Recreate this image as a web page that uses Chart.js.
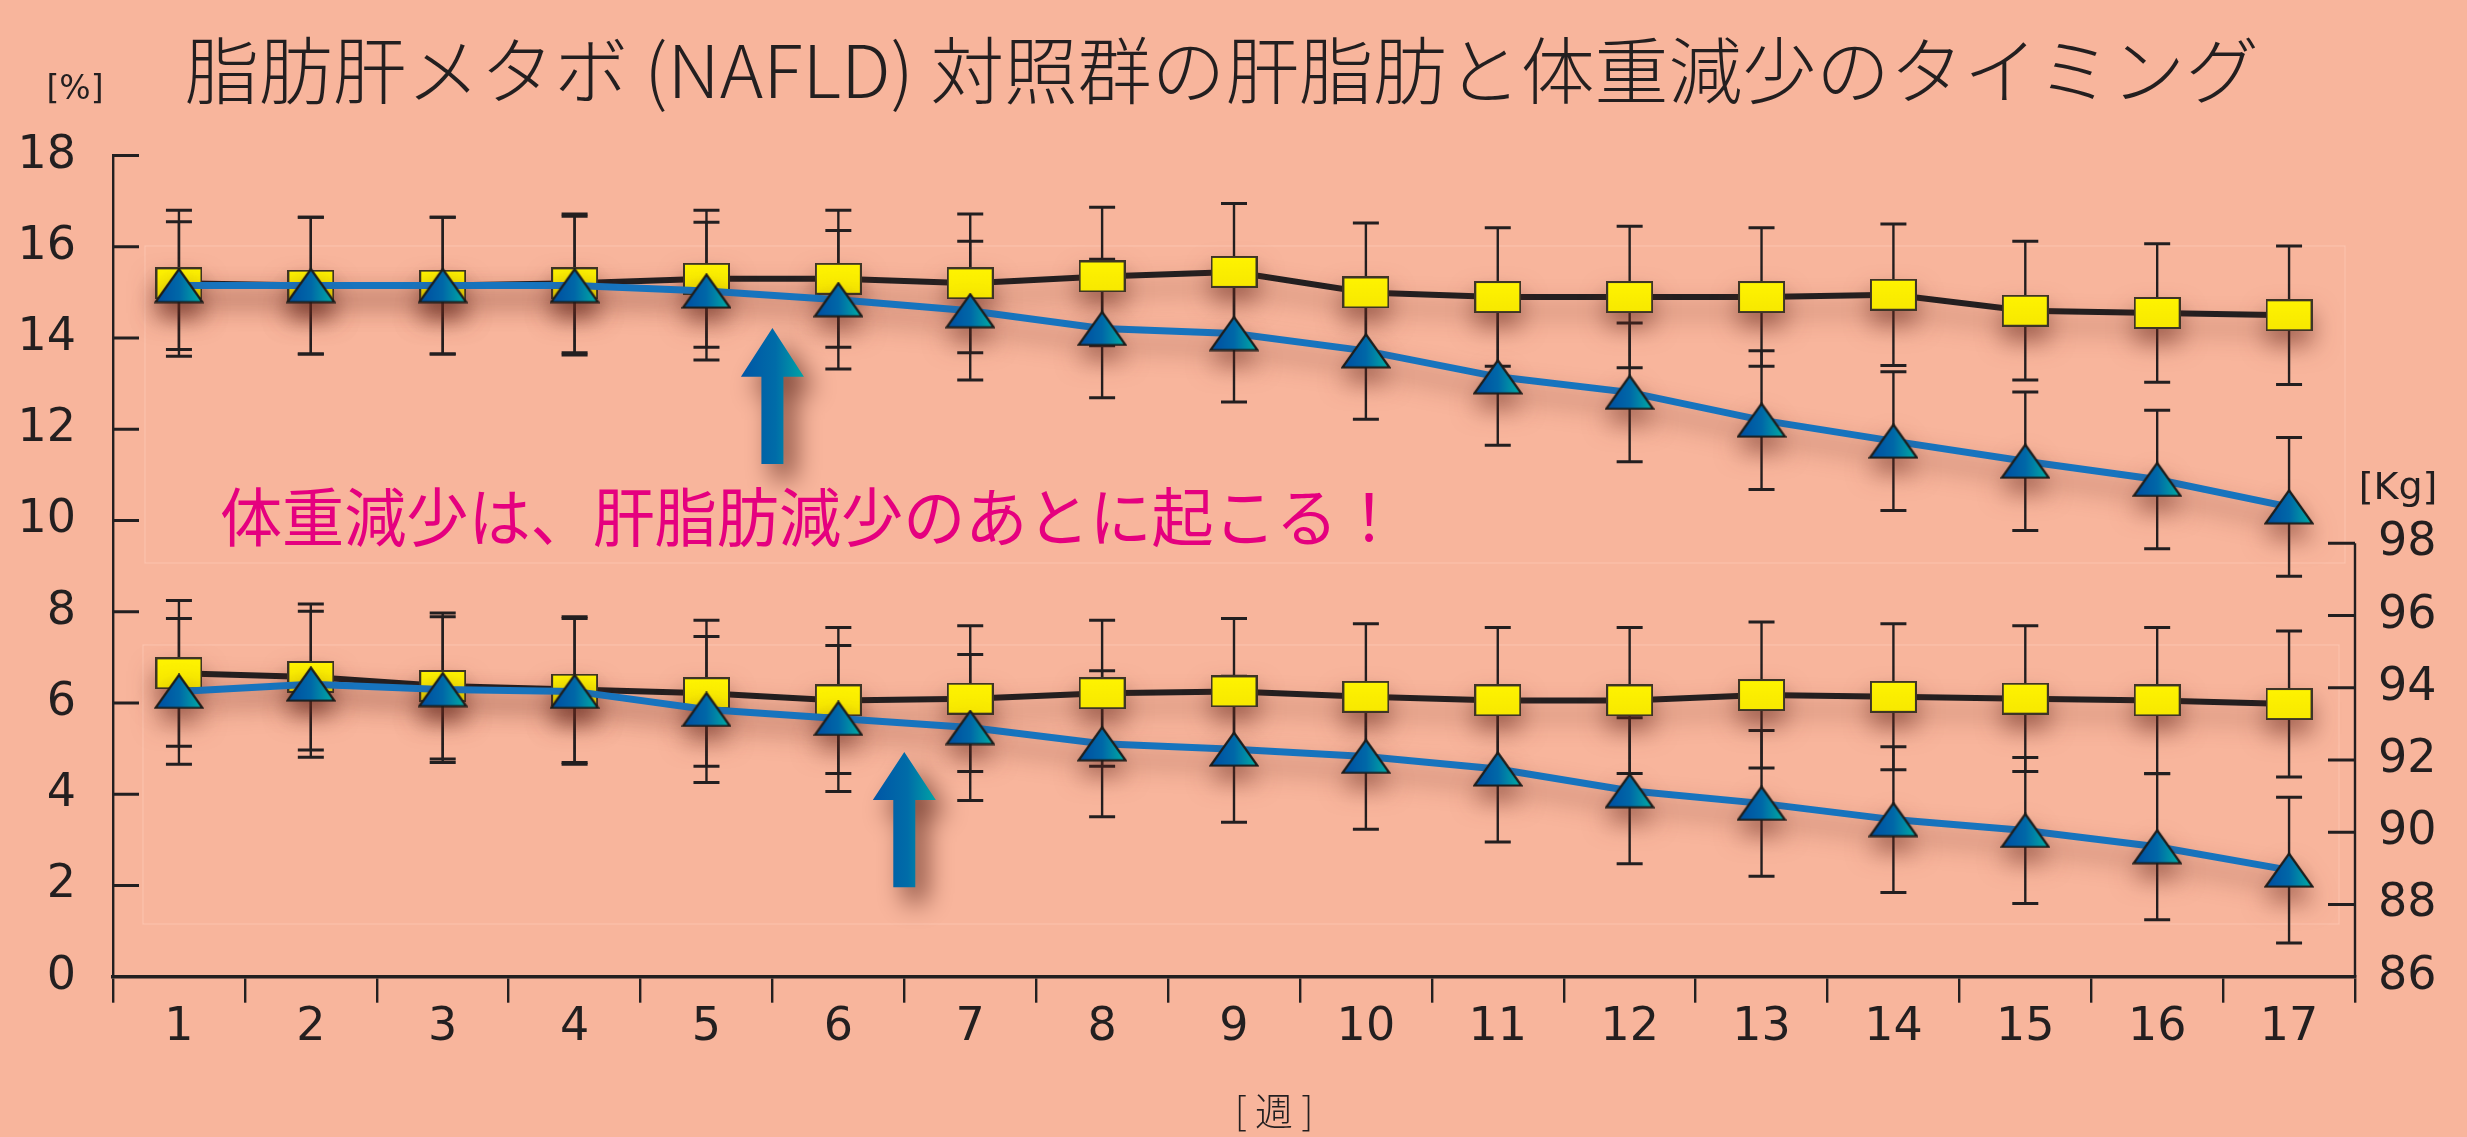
<!DOCTYPE html>
<html lang="ja">
<head>
<meta charset="utf-8">
<title>脂肪肝メタボ (NAFLD) 対照群の肝脂肪と体重減少のタイミング</title>
<script src="https://cdn.jsdelivr.net/npm/chart.js@4.4.1/dist/chart.umd.min.js"></script>
<style>
  html, body { margin: 0; padding: 0; background: #f8b59c; overflow: hidden; }
  #chart { display: block; }
</style>
</head>
<body>
<canvas id="chart" width="2467" height="1137"></canvas>
<script>
const weeks = ['1', '2', '3', '4', '5', '6', '7', '8', '9', '10', '11', '12', '13', '14', '15', '16', '17'];

// 肝脂肪 [%]
const fatSquare = [15.2, 15.15, 15.15, 15.2, 15.3, 15.3, 15.2, 15.35, 15.45, 15.0, 14.9, 14.9, 14.9, 14.95, 14.6, 14.55, 14.5];
const fatSquareSd = [1.6, 1.5, 1.5, 1.52, 1.5, 1.5, 1.52, 1.52, 1.5, 1.52, 1.52, 1.55, 1.52, 1.55, 1.52, 1.52, 1.52];
const fatTriangle = [15.15, 15.15, 15.15, 15.15, 15.03, 14.84, 14.6, 14.21, 14.1, 13.72, 13.15, 12.81, 12.2, 11.74, 11.3, 10.9, 10.3];
const fatTriangleSd = [1.4, 1.5, 1.5, 1.52, 1.51, 1.52, 1.52, 1.52, 1.5, 1.5, 1.5, 1.52, 1.52, 1.52, 1.52, 1.52, 1.52];

// 体重 [Kg]
const weightSquare = [94.4, 94.3, 94.05, 93.95, 93.85, 93.65, 93.7, 93.85, 93.9, 93.75, 93.65, 93.65, 93.8, 93.75, 93.7, 93.65, 93.55];
const weightSquareSd = [2.02, 2.02, 2.02, 2.02, 2.02, 2.02, 2.02, 2.02, 2.02, 2.02, 2.02, 2.02, 2.02, 2.02, 2.02, 2.02, 2.02];
const weightTriangle = [93.9, 94.1, 93.95, 93.9, 93.4, 93.15, 92.9, 92.45, 92.3, 92.1, 91.75, 91.15, 90.8, 90.35, 90.05, 89.6, 88.95];
const weightTriangleSd = [2.02, 2.02, 2.02, 2.02, 2.02, 2.02, 2.02, 2.02, 2.02, 2.02, 2.02, 2.02, 2.02, 2.02, 2.02, 2.02, 2.02];

const percentTicks = [0, 2, 4, 6, 8, 10, 12, 14, 16, 18];
const kgTicks = [86, 88, 90, 92, 94, 96, 98];

const titleText = '脂肪肝メタボ (NAFLD) 対照群の肝脂肪と体重減少のタイミング';
const noteText = '体重減少は、肝脂肪減少のあとに起こる！';

// 98 Kg sits at the 9.5 % level of the left axis
const kgAxisMax = 86 + 18 * (98 - 86) / 9.5;

const INK = '#231f20';
const BG = '#f8b59c';
const NUM_FONT = 'DejaVu Sans, sans-serif';
const JP_FONT = '"Noto Sans CJK JP", sans-serif';

// arrows, in axis units (x = category index)
const arrows = [
    { at: 4.5, axis: 'yPct', tip: 14.22, neck: 13.15, tail: 11.24 },
    { at: 5.5, axis: 'yKg', tip: 92.22, neck: 90.89, tail: 88.48 }
];

function squareMarker() {
    const c = document.createElement('canvas');
    c.width = 47;
    c.height = 32;
    const g = c.getContext('2d');
    const grad = g.createLinearGradient(0, 0, 0, 32);
    grad.addColorStop(0, '#fff400');
    grad.addColorStop(1, '#f7e800');
    g.fillStyle = grad;
    g.fillRect(1, 1, 45, 30);
    g.strokeStyle = '#3d3526';
    g.lineWidth = 2;
    g.strokeRect(1, 1, 45, 30);
    return c;
}

function triangleMarker() {
    const c = document.createElement('canvas');
    c.width = 50;
    c.height = 36;
    const g = c.getContext('2d');
    const grad = g.createLinearGradient(6, 0, 44, 0);
    grad.addColorStop(0, '#0052a2');
    grad.addColorStop(0.5, '#0068a8');
    grad.addColorStop(1, '#00a2a4');
    g.beginPath();
    g.moveTo(25, 1.5);
    g.lineTo(48.5, 34.5);
    g.lineTo(1.5, 34.5);
    g.closePath();
    g.fillStyle = grad;
    g.fill();
    g.strokeStyle = '#1d1d1b';
    g.lineWidth = 2.2;
    g.stroke();
    return c;
}

function drawFitted(ctx, text, left, midY, width, font, color) {
    ctx.save();
    ctx.font = font;
    ctx.fillStyle = color;
    ctx.textBaseline = 'middle';
    ctx.textAlign = 'left';
    const w = ctx.measureText(text).width;
    ctx.translate(left, midY);
    ctx.scale(width / w, 1);
    ctx.fillText(text, 0, 0);
    ctx.restore();
}

function drawText(ctx, text, x, midY, font, color) {
    ctx.save();
    ctx.font = font;
    ctx.fillStyle = color;
    ctx.textBaseline = 'middle';
    ctx.textAlign = 'center';
    ctx.fillText(text, x, midY);
    ctx.restore();
}

// soft drop shadow under lines and markers
const softShadow = {
    id: 'softShadow',
    beforeDatasetDraw(chart) {
        const ctx = chart.ctx;
        ctx.save();
        ctx.shadowColor = 'rgba(100, 38, 28, 0.55)';
        ctx.shadowBlur = 24;
        ctx.shadowOffsetY = 14;
    },
    afterDatasetDraw(chart) {
        chart.ctx.restore();
    }
};

const errorBars = {
    id: 'errorBars',
    beforeDatasetsDraw(chart) {
        const ctx = chart.ctx;
        const xs = chart.scales.x;
        ctx.save();
        ctx.strokeStyle = INK;
        chart.data.datasets.forEach(ds => {
            if (!ds.sd) return;
            const ys = chart.scales[ds.yAxisID];
            ds.data.forEach((v, j) => {
                const px = xs.getPixelForValue(j);
                const top = ys.getPixelForValue(v + ds.sd[j]);
                const bot = ys.getPixelForValue(v - ds.sd[j]);
                ctx.lineWidth = 2.4;
                ctx.beginPath();
                ctx.moveTo(px, top);
                ctx.lineTo(px, bot);
                ctx.stroke();
                ctx.lineWidth = 3;
                ctx.beginPath();
                ctx.moveTo(px - 13, top);
                ctx.lineTo(px + 13, top);
                ctx.moveTo(px - 13, bot);
                ctx.lineTo(px + 13, bot);
                ctx.stroke();
            });
        });
        ctx.restore();
    }
};

const decorations = {
    id: 'decorations',
    beforeDraw(chart) {
        const ctx = chart.ctx;
        ctx.save();
        ctx.fillStyle = BG;
        ctx.fillRect(0, 0, chart.width, chart.height);
        // faint panel frames
        ctx.strokeStyle = 'rgba(255, 205, 185, 0.6)';
        ctx.lineWidth = 1.2;
        ctx.strokeRect(145, 246, 2200, 317);
        ctx.strokeRect(143, 645, 2196, 279);
        ctx.restore();
    },
    afterDatasetsDraw(chart) {
        const ctx = chart.ctx;
        const xs = chart.scales.x;
        arrows.forEach(a => {
            const ys = chart.scales[a.axis];
            const x = xs.getPixelForValue(a.at);
            const tip = ys.getPixelForValue(a.tip);
            const neck = ys.getPixelForValue(a.neck);
            const tail = ys.getPixelForValue(a.tail);
            ctx.save();
            ctx.shadowColor = 'rgba(80, 28, 18, 0.7)';
            ctx.shadowBlur = 26;
            ctx.shadowOffsetX = 11;
            ctx.shadowOffsetY = 15;
            const grad = ctx.createLinearGradient(x - 31, 0, x + 31, 0);
            grad.addColorStop(0, '#0056a6');
            grad.addColorStop(0.55, '#006ca8');
            grad.addColorStop(1, '#00a3a5');
            ctx.fillStyle = grad;
            ctx.beginPath();
            ctx.moveTo(x, tip);
            ctx.lineTo(x + 31.5, neck);
            ctx.lineTo(x + 11, neck);
            ctx.lineTo(x + 11, tail);
            ctx.lineTo(x - 11, tail);
            ctx.lineTo(x - 11, neck);
            ctx.lineTo(x - 31.5, neck);
            ctx.closePath();
            ctx.fill();
            ctx.restore();
        });
    },
    afterDraw(chart) {
        const ctx = chart.ctx;
        const area = chart.chartArea;
        const yl = chart.scales.yPct;
        const yr = chart.scales.yKg;

        // inner tick marks on both value axes
        ctx.save();
        ctx.strokeStyle = INK;
        ctx.lineWidth = 3;
        ctx.beginPath();
        percentTicks.forEach(v => {
            if (v === 0) return;
            const y = yl.getPixelForValue(v);
            ctx.moveTo(area.left, y);
            ctx.lineTo(area.left + 26, y);
        });
        kgTicks.forEach(v => {
            if (v === 86) return;
            const y = yr.getPixelForValue(v);
            ctx.moveTo(area.right - 27, y);
            ctx.lineTo(area.right, y);
        });
        ctx.stroke();
        // right axis line only from 86 up to 98
        ctx.lineWidth = 2.4;
        ctx.beginPath();
        ctx.moveTo(area.right, yr.getPixelForValue(kgTicks[kgTicks.length - 1]));
        ctx.lineTo(area.right, area.bottom);
        ctx.stroke();
        ctx.restore();

        drawFitted(ctx, titleText, 185, 70, 2074, '300 73px ' + JP_FONT, INK);
        drawText(ctx, '[%]', 75, 90, '33px ' + NUM_FONT, INK);
        drawText(ctx, '[Kg]', 2398, 489, '38px ' + NUM_FONT, INK);
        drawFitted(ctx, noteText, 220, 517, 1180, '64px ' + JP_FONT, '#e5007f');
        drawText(ctx, '[ 週 ]', 1274, 1111, '300 38px ' + JP_FONT, INK);
    }
};

const triPoint = triangleMarker();
const sqPoint = squareMarker();

const lineBase = {
    tension: 0,
    pointRadius: 12,
    pointHoverRadius: 12,
    fill: false
};

const chart = new Chart(document.getElementById('chart').getContext('2d'), {
    type: 'line',
    data: {
        labels: weeks,
        datasets: [
            Object.assign({}, lineBase, {
                label: '肝脂肪 ▲', data: fatTriangle, sd: fatTriangleSd, yAxisID: 'yPct',
                borderColor: '#1774be', borderWidth: 7, pointStyle: triPoint
            }),
            Object.assign({}, lineBase, {
                label: '体重 ▲', data: weightTriangle, sd: weightTriangleSd, yAxisID: 'yKg',
                borderColor: '#1774be', borderWidth: 7, pointStyle: triPoint
            }),
            Object.assign({}, lineBase, {
                label: '肝脂肪 ■', data: fatSquare, sd: fatSquareSd, yAxisID: 'yPct',
                borderColor: INK, borderWidth: 6, pointStyle: sqPoint
            }),
            Object.assign({}, lineBase, {
                label: '体重 ■', data: weightSquare, sd: weightSquareSd, yAxisID: 'yKg',
                borderColor: INK, borderWidth: 6, pointStyle: sqPoint
            })
        ]
    },
    options: {
        responsive: false,
        animation: false,
        devicePixelRatio: 1,
        layout: { padding: { top: 155.6, left: 0, right: 0, bottom: 0 } },
        plugins: {
            legend: { display: false },
            tooltip: { enabled: false },
            title: { display: false }
        },
        scales: {
            x: {
                type: 'category',
                offset: true,
                grid: {
                    offset: true,
                    drawOnChartArea: false,
                    drawTicks: true,
                    tickLength: 26,
                    color: INK,
                    lineWidth: 2.4
                },
                border: { display: true, color: INK, width: 3.5 },
                ticks: {
                    color: INK,
                    font: { family: NUM_FONT, size: 46, lineHeight: 1 },
                    padding: 2,
                    maxRotation: 0,
                    autoSkip: false
                },
                afterFit: s => { s.height = 160.3; }
            },
            yPct: {
                type: 'linear',
                position: 'left',
                min: 0,
                max: 18,
                grid: { display: false, drawTicks: false },
                border: { display: true, color: INK, width: 2.4 },
                ticks: {
                    color: INK,
                    font: { family: NUM_FONT, size: 46 },
                    padding: 37
                },
                afterBuildTicks: s => { s.ticks = percentTicks.map(v => ({ value: v })); },
                afterFit: s => { s.width = 113; }
            },
            yKg: {
                type: 'linear',
                position: 'right',
                min: 86,
                max: kgAxisMax,
                grid: { display: false, drawTicks: false },
                border: { display: false },
                ticks: {
                    color: INK,
                    font: { family: NUM_FONT, size: 46 },
                    padding: 23
                },
                afterBuildTicks: s => { s.ticks = kgTicks.map(v => ({ value: v })); },
                afterFit: s => { s.width = 112; }
            }
        }
    },
    plugins: [decorations, errorBars, softShadow]
});
</script>
</body>
</html>
